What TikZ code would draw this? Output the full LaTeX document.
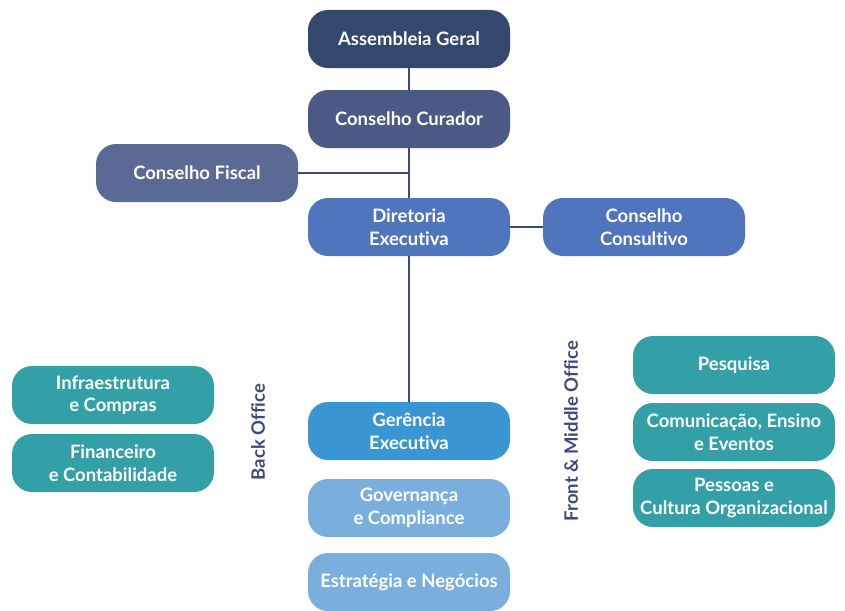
\documentclass[tikz,border=0pt]{standalone}
\usepackage{fontspec}
\setmainfont{Lato}[Ligatures=NoCommon]
\begin{document}
\begin{tikzpicture}[x=1pt,y=-1pt,
  box/.style={rounded corners=20pt, minimum width=202pt, minimum height=58pt, inner sep=0pt,
     align=center, text=white, font=\bfseries\fontsize{18.5}{22.5}\selectfont},
  conn/.style={draw=lineC, line width=1.4pt},
  side/.style={rotate=90, text=sideC, font=\bfseries\fontsize{18.5}{22}\selectfont}]
\definecolor{cAG}{HTML}{34486E}
\definecolor{cCC}{HTML}{4A5A85}
\definecolor{cCF}{HTML}{5A6A94}
\definecolor{cDE}{HTML}{4F75BC}
\definecolor{cGE}{HTML}{3A95D3}
\definecolor{cGC}{HTML}{7AAEDC}
\definecolor{cT}{HTML}{33A0A8}
\definecolor{lineC}{HTML}{3C4B72}
\definecolor{sideC}{HTML}{3E4A7C}
\useasboundingbox (0,0) rectangle (845,610);
\node[box, fill=cAG] (ag) at (409,39) {Assembleia Geral};
\node[box, fill=cCC] (cc) at (409,119) {Conselho Curador};
\node[box, fill=cCF] (cf) at (197,173) {Conselho Fiscal};
\node[box, fill=cDE] (de) at (409,227) {Diretoria\\Executiva};
\node[box, fill=cDE] (cs) at (644,227) {Conselho\\Consultivo};
\node[box, fill=cGE] (ge) at (409,431) {Gerência\\Executiva};
\node[box, fill=cGC] (gc) at (409,508) {Governança\\e Compliance};
\node[box, fill=cGC] (en) at (409,582) {Estratégia e Negócios};
\node[box, fill=cT] (ic) at (113,395) {Infraestrutura\\e Compras};
\node[box, fill=cT] (fc) at (113,463) {Financeiro\\e Contabilidade};
\node[box, fill=cT] (pq) at (734,365) {Pesquisa};
\node[box, fill=cT] (ce) at (734,432) {Comunicação, Ensino\\e Eventos};
\node[box, fill=cT] (po) at (734,498) {Pessoas e\\Cultura Organizacional};
\node[side] (bo) at (258,432) {Back Office};
\node[side] (fm) at (571,431) {Front \& Middle Office};
\coordinate (j) at (409,173);
\draw[conn] (ag) -- (cc);
\draw[conn] (cc) -- (de);
\draw[conn] (cf.east) -- (j);
\draw[conn] (de) -- (cs);
\draw[conn] (de) -- (ge);
\end{tikzpicture}
\end{document}
